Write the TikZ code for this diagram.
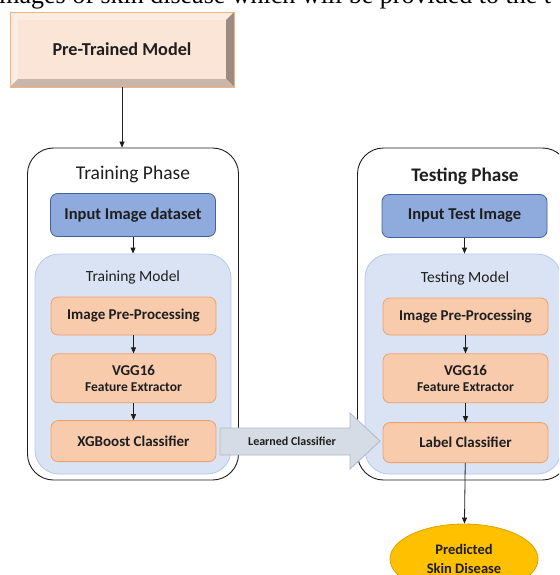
\documentclass[tikz,border=0pt]{standalone}
\usepackage{fontspec}
\setmainfont{Carlito}
\newfontfamily\pagefont{Liberation Serif}
\usetikzlibrary{arrows.meta,positioning,shapes.geometric}
\definecolor{peach}{HTML}{FBE5D6}
\definecolor{peachline}{HTML}{F4B183}
\definecolor{bevellight}{HTML}{FCEDE3}
\definecolor{bevelright}{HTML}{9E8B80}
\definecolor{bevelbottom}{HTML}{C9B5AA}
\definecolor{inblue}{HTML}{8FAADC}
\definecolor{inblueline}{HTML}{41639E}
\definecolor{modelbg}{HTML}{DAE3F3}
\definecolor{modelline}{HTML}{B4C7E7}
\definecolor{stepfill}{HTML}{F8CBAD}
\definecolor{stepline}{HTML}{F0A06A}
\definecolor{greyarrow}{HTML}{D6DCE5}
\definecolor{greyline}{HTML}{ADB9CA}
\definecolor{gold}{HTML}{FFC000}
\definecolor{goldline}{HTML}{D9A300}
\definecolor{ink}{HTML}{1E1E1E}

\begin{document}
\begin{tikzpicture}[
  x=1pt, y=-1pt,
  node distance=17pt,
  phase/.style={draw=ink, line width=0.9pt, rounded corners=26pt,
                minimum width=211pt, minimum height=332pt},
  model/.style={draw=modelline, fill=modelbg, line width=0.8pt,
                rounded corners=24pt, minimum width=196pt, minimum height=220pt},
  title/.style={font=\fontsize{19.5}{22}\selectfont, text=ink},
  sub/.style={font=\fontsize{15.5}{17}\selectfont, text=ink},
  inbox/.style={draw=inblueline, fill=inblue, rounded corners=7pt, line width=0.8pt,
                minimum width=165pt, minimum height=43pt,
                font=\bfseries\fontsize{16.5}{18}\selectfont, text=ink},
  stepbox/.style={draw=stepline, fill=stepfill, rounded corners=7pt, line width=0.8pt,
                  minimum width=165pt, align=center, text=ink,
                  font=\bfseries\fontsize{15}{15}\selectfont},
  arr/.style={-{Triangle[length=6pt,width=5pt]}, line width=0.8pt, ink}
]
\path[use as bounding box, clip] (0,0) rectangle (559,575);

% running text of the page above the figure
\node[anchor=base west, inner sep=0pt, font=\pagefont\fontsize{26}{28}\selectfont]
  (pageline) at (-8,3.5) {images of skin disease which will be provided to the t};

% bevelled pre-trained box
\fill[bevellight] (10,12) -- (234,12) -- (226,20) -- (18,20) -- cycle;
\fill[bevellight] (10,12) -- (18,20) -- (18,79) -- (10,87) -- cycle;
\fill[bevelright] (234,12) -- (234,87) -- (226,79) -- (226,20) -- cycle;
\fill[bevelbottom] (10,87) -- (234,87) -- (226,79) -- (18,79) -- cycle;
\node[fill=peach, minimum width=208pt, minimum height=59pt,
      font=\bfseries\fontsize{18.2}{20}\selectfont, text=ink]
  (pretrained) at (122,49.5) {Pre-Trained Model};
\draw[peachline, line width=0.8pt] (10,12) rectangle (234,87);

% training side
\node[phase] (train) at (133,314) {};
\node[title] (traintitle) at (133,174) {Training Phase};
\node[inbox] (trainin) at (133,215) {Input Image dataset};
\node[model] (trainmodel) at (133,364) {};
\node[sub] (trainmodeltitle) at (133,277) {Training Model};
\node[stepbox, minimum height=38pt] (trainpre) at (133.5,316) {Image Pre-Processing};
\node[stepbox, minimum height=49pt, below=18pt of trainpre] (trainvgg)
  {VGG16\\[1pt]{\fontsize{13.5}{14}\selectfont Feature Extractor}};
\node[stepbox, minimum height=41pt, below=17pt of trainvgg] (xgb) {XGBoost Classifier};

% testing side
\node[phase] (test) at (463,314) {};
\node[title, font=\bfseries\fontsize{19.2}{22}\selectfont] (testtitle) at (465,176) {Testing Phase};
\node[inbox] (testin) at (464.5,216) {Input Test Image};
\node[model] (testmodel) at (463,364) {};
\node[sub] (testmodeltitle) at (465,278) {Testing Model};
\node[stepbox, minimum height=37pt] (testpre) at (465.5,316.5) {Image Pre-Processing};
\node[stepbox, minimum height=49pt, below=18pt of testpre] (testvgg)
  {VGG16\\[1pt]{\fontsize{13.5}{14}\selectfont Feature Extractor}};
\node[stepbox, minimum height=40pt, below=19pt of testvgg] (labelcls) {Label Classifier};

% learned classifier hand-over
\draw[draw=greyline, fill=greyarrow, line width=0.8pt]
  (220,428) -- (350,428) -- (350,413) -- (380,441) -- (350,469) -- (350,455) -- (220,455) -- cycle;
\node[font=\bfseries\fontsize{12}{13}\selectfont, text=ink] (learned) at (292,441) {Learned Classifier};

\node[ellipse, draw=goldline, fill=gold, line width=0.8pt, minimum width=148pt,
      minimum height=70pt, align=center, text=ink,
      font=\bfseries\fontsize{14.5}{19}\selectfont] (result) at (464,559)
  {Predicted\\Skin Disease};

\draw[arr] (pretrained.south |- 0,87) -- (train.north -| pretrained.south);
\draw[arr] (trainin) -- (trainmodel.north);
\draw[arr] (trainpre) -- (trainvgg);
\draw[arr] (trainvgg) -- (xgb);
\draw[arr] (testin) -- (testmodel.north -| testin.south);
\draw[arr] (testpre) -- (testvgg);
\draw[arr] (testvgg) -- (labelcls);
\draw[arr] (labelcls) -- (result);
\end{tikzpicture}
\end{document}
